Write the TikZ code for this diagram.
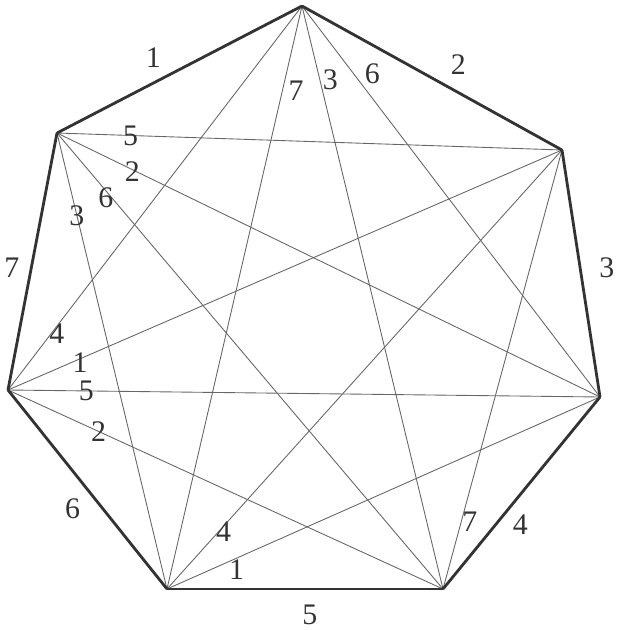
\documentclass[tikz,border=0pt]{standalone}
\usepackage{fontspec}
\setmainfont{Liberation Serif}
\usepackage{tikz}
\usetikzlibrary{positioning}

\begin{document}
\begin{tikzpicture}[x=0.02cm,y=-0.02cm]
        \tikzstyle{corner}=[inner sep=0pt,minimum size=0pt]
        \tikzstyle{side}=[draw=black!80,line width=1.6pt,line cap=round]
        \tikzstyle{chord}=[draw=black!60,line width=0.5pt]
        \tikzstyle{num}=[inner sep=0pt,text=black!80,font=\fontsize{17}{20}\selectfont]
        \useasboundingbox (0,0) rectangle (618,630);
        % corners of the heptagon
        \node[corner] (A) at (302,6) {};
        \node[corner] (B) at (562,150) {};
        \node[corner] (C) at (600,397) {};
        \node[corner] (D) at (443,589) {};
        \node[corner] (E) at (167,589) {};
        \node[corner] (F) at (8,390) {};
        \node[corner] (G) at (57,133) {};
        % diagonals
        \path[chord]
        (A) edge node[num,pos=.14,shift={(13,3)}] {7} (E)
        (A) edge node[num,pos=.13,shift={(10,-2)}] {3} (D)
        (A) edge node[num,pos=.195,shift={(12,-9)}] {6} (C)
        (G) edge node[num,pos=.145] {5} (B)
        (G) edge node[num,pos=.14,shift={(-1,2)}] {2} (C)
        (G) edge node[num,pos=.134,shift={(-3,3)}] {6} (D)
        (G) edge node[num,pos=.18] {3} (E)
        (F) edge node[num,pos=.155,shift={(3,3)}] {4} (A)
        (F) edge node[num,pos=.128,shift={(1,3)}] {1} (B)
        (F) edge node[num,pos=.132] {5} (C)
        (F) edge node[num,pos=.208] {2} (D)
        (E) edge node[num,pos=.135,shift={(3,2)}] {4} (B)
        (E) edge node[num,pos=.151,shift={(4,10)}] {1} (C)
        (D) edge node[num,pos=.158,shift={(8,2)}] {7} (B);
        % sides
        \path[side]
        (A) edge node[num,pos=.555,shift={(12,-21)}] {2} (B)
        (B) edge node[num,pos=.494,shift={(26,-4)}] {3} (C)
        (C) edge node[num,pos=.604,shift={(15,12)}] {4} (D)
        (D) edge node[num,pos=.482,shift={(0,26)}] {5} (E)
        (E) edge node[num,pos=.481,shift={(-18,15)}] {6} (F)
        (F) edge node[num,pos=.465,shift={(-19,-3)}] {7} (G)
        (G) edge node[num,pos=.434,shift={(-10,-20)}] {1} (A);
    \end{tikzpicture}
\end{document}
